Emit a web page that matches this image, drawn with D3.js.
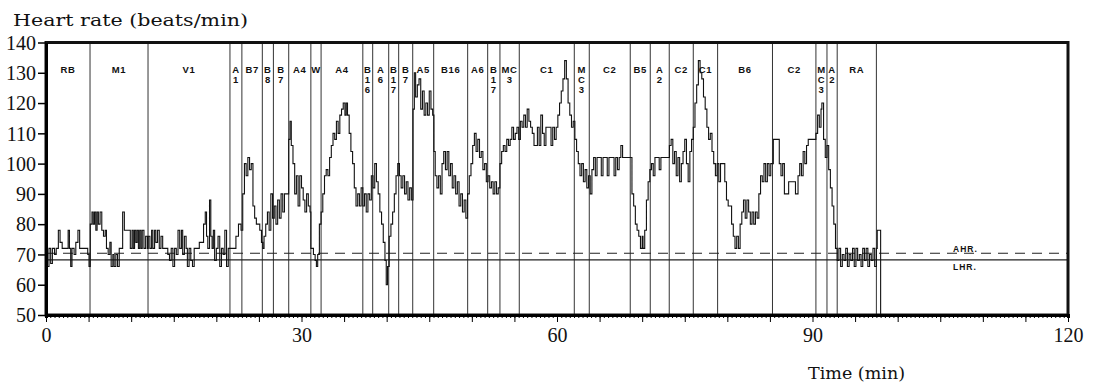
<!DOCTYPE html>
<html>
<head>
<meta charset="utf-8">
<script src="https://cdn.jsdelivr.net/npm/d3@7"></script>
<style>
  body { margin: 0; background: #fff; }
  svg { display: block; }
  .tick text { font-family: 'Liberation Serif', serif !important; }
</style>
</head>
<body>
<svg id="chart" width="1093" height="384"></svg>
<script>
// activity segments (min) and their labels
const segEdges = [0, 5.17, 11.98, 21.6, 23.0, 25.4, 26.7, 28.5, 31.1, 32.3, 37.2, 38.36, 40.24, 41.41, 43.06,
  45.52, 49.51, 51.86, 53.3, 55.57, 62.03, 63.79, 68.6, 70.95, 73.18, 76.0, 78.86, 85.3, 90.4, 91.7, 92.9, 97.5];
const segLabels = ['RB', 'M1', 'V1', 'A\n1', 'B7', 'B\n8', 'B\n7', 'A4', 'W', 'A4', 'B\n1\n6', 'A\n6', 'B\n1\n7', 'B\n7',
  'A5', 'B16', 'A6', 'B\n1\n7', 'MC\n3', 'C1', 'M\nC\n3', 'C2', 'B5', 'A\n2', 'C2', 'C1', 'B6', 'C2', 'M\nC\n3', 'A\n2', 'RA'];

// reference levels (beats/min)
const refNames = ['AHR.', 'LHR.'];
const refValues = [70.4, 68.2];

const yTicks = [50, 60, 70, 80, 90, 100, 110, 120, 130, 140];
const xTicks = [0, 30, 60, 90, 120];

// heart rate trace: [time (min), beats/min]
const hrTrace = [
  [0,70],[0.15,66],[0.35,72],[0.55,67],[0.75,72],[1.0,70],[1.2,72],[1.45,78],[1.65,74],[1.9,72],[2.6,78],[2.75,72],
  [2.9,66],[3.05,72],[3.3,70],[3.5,74],[3.75,78],[3.95,72],[4.6,72],[4.9,70],[5.05,66],
  [5.2,80],[5.4,84],[5.55,80],[5.7,84],[5.85,78],[6.0,84],[6.15,80],[6.35,84],[6.55,78],[6.75,76],[6.95,78],[7.1,72],
  [7.3,70],[7.5,74],[7.65,66],[7.85,70],[8.0,66],[8.2,70],[8.4,66],[8.6,72],[9.0,84],[9.2,78],[9.9,72],[10.1,78],
  [10.25,72],[10.4,78],[10.55,74],[10.7,78],[10.85,72],[11.0,78],[11.15,72],[11.3,78],[11.5,72],[11.7,76],[11.9,72],
  [12.0,76],[12.2,72],[12.4,78],[12.55,72],[12.75,78],[12.9,74],[13.1,78],[13.3,72],[13.5,76],[13.7,72],[14.3,70],
  [14.5,68],[14.7,72],[14.9,66],[15.1,72],[15.3,70],[15.5,78],[15.7,72],[15.9,78],[16.05,70],[16.25,76],[16.45,72],
  [16.6,66],[16.8,72],[17.0,68],[17.2,66],[17.4,72],[18.0,74],[18.5,80],[18.7,84],[18.85,76],[19.0,72],[19.2,88],
  [19.35,76],[19.5,72],[19.65,78],[19.8,68],[20.0,72],[20.2,76],[20.4,66],[20.6,72],[20.8,70],[21.0,78],[21.2,66],
  [21.4,72],
  [22.3,76],[22.6,80],[22.9,78],[23.1,90],[23.3,100],[23.5,96],[23.7,102],[23.9,98],[24.1,100],[24.3,86],[24.5,82],
  [24.7,80],[25.1,78],[25.3,74],[25.45,72],[25.6,76],[25.8,80],[26.0,84],[26.2,78],[26.4,90],[26.6,82],[26.8,86],
  [27.0,80],[27.2,88],[27.4,82],[27.6,90],[27.8,84],[28.0,90],[28.5,108],[28.65,114],[28.8,106],[29.0,100],[29.2,90],
  [29.4,96],[29.6,86],[29.8,96],[30.0,92],[30.2,88],[30.4,84],[30.6,90],[30.8,86],[31.0,84],[31.1,72],[31.4,70],
  [31.6,68],[31.75,66],[31.9,70],[32.1,80],[32.3,84],[32.5,90],[32.7,96],[32.9,98],[33.1,96],[33.3,102],[33.5,106],
  [33.7,110],[33.9,108],[34.1,114],[34.3,110],[34.5,116],[34.7,118],[34.9,120],[35.1,116],[35.25,120],[35.4,116],
  [35.6,110],[35.8,104],[36.0,100],[36.2,92],[36.4,86],[36.6,90],[36.8,86],[37.0,92],[37.2,86],[37.4,90],[37.6,84],
  [37.8,90],[38.0,88],[38.2,96],[38.4,92],[38.6,100],[38.8,94],[39.0,90],[39.2,84],[39.4,80],[39.6,74],[39.8,68],
  [39.95,60],[40.1,66],[40.3,76],[40.5,80],[40.7,84],[40.9,90],[41.1,96],[41.3,100],[41.5,96],[41.7,92],[41.9,96],
  [42.1,90],[42.3,94],[42.5,88],[42.7,92],[42.9,88],
  [43.1,118],[43.25,130],[43.4,122],[43.6,126],[43.8,128],[44.0,118],[44.2,124],[44.4,116],[44.6,120],[44.8,116],
  [45.0,124],[45.2,118],[45.4,116],[45.55,104],[45.7,96],[45.9,92],[46.1,96],[46.3,90],[46.5,100],[46.7,104],
  [46.9,98],[47.1,104],[47.3,96],[47.5,100],[47.7,92],[47.9,96],[48.1,90],[48.3,94],[48.5,86],[48.7,90],[48.9,84],
  [49.1,88],[49.3,82],[49.5,90],[49.7,96],[49.9,100],[50.1,106],[50.3,110],[50.5,104],[50.7,108],[50.9,102],
  [51.1,104],[51.3,98],[51.5,100],[51.7,94],[51.9,96],[52.1,92],[52.3,94],[52.5,90],[52.7,94],[52.9,90],[53.1,92],
  [53.3,100],[53.5,104],[53.7,106],[53.9,104],[54.1,108],[54.3,106],[54.5,108],[54.7,112],[54.9,108],[55.1,110],
  [55.3,112],[55.5,108],[55.7,114],[55.9,112],[56.1,116],[56.3,112],[56.5,118],[56.7,114],[56.9,112],[57.1,110],
  [57.3,106],[57.7,112],[57.9,106],[58.1,116],[58.3,110],[58.5,106],[58.7,112],[59.3,106],[59.5,112],[59.7,108],
  [59.9,112],[60.1,116],[60.3,120],[60.5,124],[60.7,128],[60.9,134],[61.1,128],[61.3,120],[61.5,116],[61.7,112],
  [61.9,114],[62.1,108],[62.3,104],[62.5,100],[62.7,96],[62.9,100],[63.1,94],[63.3,98],[63.5,92],[63.7,96],[63.9,90],
  [64.1,98],[64.3,102],[64.5,96],[64.7,102],[65.2,96],[65.4,102],[65.9,96],[66.1,102],[66.7,96],[66.9,102],[67.1,98],
  [67.3,102],[67.5,106],[67.7,102],[68.6,102],[68.8,90],[69.0,86],[69.2,80],[69.4,78],[69.6,76],[69.8,72],[70.0,76],
  [70.1,72],[70.3,78],[70.5,88],[70.7,94],[70.9,98],[71.1,100],[71.3,96],[71.5,102],[72.0,98],[72.2,102],[73.2,106],
  [73.4,108],[73.6,100],[73.8,104],[74.0,96],[74.2,102],[74.4,94],[74.6,100],[74.8,104],[75.0,108],[75.2,100],
  [75.4,94],[75.6,104],[75.8,108],[76.0,112],[76.2,120],[76.4,126],[76.6,134],[76.8,130],[77.0,128],[77.2,122],
  [77.4,118],[77.6,112],[77.8,108],[78.0,110],[78.2,104],[78.4,100],[78.6,96],[78.8,100],[79.0,94],[79.2,100],
  [79.7,94],[79.9,88],[80.1,86],[80.5,80],[80.7,76],[80.9,72],[81.1,76],[81.3,72],[81.5,80],[81.7,84],[81.9,88],
  [82.1,82],[82.3,88],[82.5,84],[82.7,80],[82.9,84],[83.1,80],[83.3,84],[83.5,82],[83.7,90],[83.9,96],[84.1,94],
  [84.3,100],[84.5,94],[84.7,100],[84.9,96],[85.1,100],[85.4,108],[86.1,100],[86.3,96],[86.5,100],[86.7,90],
  [87.2,94],[87.8,94],[88.0,90],[88.3,96],[88.5,100],[88.7,96],[88.9,104],[89.1,100],[89.3,106],[89.5,108],
  [90.4,110],[90.6,116],[90.8,112],[91.0,118],[91.1,120],[91.3,108],[91.5,102],[91.7,106],[91.9,98],[92.1,92],
  [92.3,86],[92.5,80],[92.7,72],[92.9,68],[93.1,72],[93.3,66],[93.5,70],[93.7,68],[93.9,72],[94.1,66],[94.3,70],
  [94.5,68],[94.7,72],[94.9,66],[95.1,72],[95.3,68],[95.5,70],[95.7,66],[95.9,72],[96.1,68],[96.3,72],[96.5,66],
  [96.7,70],[96.9,68],[97.1,72],[97.3,66],[97.5,72],[97.6,78],[97.9,78],[98.0,50]
];

const svg = d3.select('#chart');
const x = d3.scaleLinear().domain([0, 120]).range([46, 1068]);
const y = d3.scaleLinear().domain([50, 140]).range([315, 42.5]);
const bold = 'Liberation Sans, Arial, sans-serif';

// titles
svg.append('text').text('Heart rate (beats/min)')
  .attr('x', 13).attr('y', 26)
  .attr('textLength', 235).attr('lengthAdjust', 'spacingAndGlyphs')
  .style('font-family', 'DejaVu Serif, serif').style('font-size', '16px').style('fill', '#111');
svg.append('text').text('Time (min)')
  .attr('x', 808).attr('y', 379)
  .attr('textLength', 97).attr('lengthAdjust', 'spacingAndGlyphs')
  .style('font-family', 'DejaVu Serif, serif').style('font-size', '16px').style('fill', '#111');

// activity boundaries
svg.append('g').selectAll('line').data(segEdges.slice(1)).join('line')
  .attr('x1', d => x(d)).attr('x2', d => x(d))
  .attr('y1', y(140)).attr('y2', y(50))
  .style('stroke', '#333').style('stroke-width', 1);

// activity labels
const lab = svg.append('g').selectAll('text').data(segLabels).join('text')
  .attr('text-anchor', 'middle')
  .style('font-family', bold).style('font-weight', 'bold').style('font-size', '9.5px')
  .style('letter-spacing', '0.6px').style('fill', '#111');
lab.each(function(d, i) {
  const cx = (x(segEdges[i]) + x(segEdges[i + 1])) / 2;
  d.split('\n').forEach((s, k) => {
    d3.select(this).append('tspan').text(s).attr('x', cx).attr('y', 72.5 + k * 10);
  });
});

// AHR / LHR
svg.append('g').selectAll('line').data(refValues).join('line')
  .attr('x1', x(0)).attr('x2', x(120))
  .attr('y1', d => y(d)).attr('y2', d => y(d))
  .style('stroke', '#222').style('stroke-width', 1.1)
  .style('stroke-dasharray', (d, i) => i === 0 ? '10,7' : null);
svg.append('g').selectAll('text').data(refNames).join('text')
  .text(d => d)
  .attr('x', 953).attr('y', (d, i) => i === 0 ? y(refValues[i]) - 1.5 : y(refValues[i]) + 10)
  .style('font-family', bold).style('font-weight', 'bold').style('font-size', '8.5px')
  .style('letter-spacing', '1px').style('fill', '#111');

// trace
const line = d3.line().x(d => x(d[0])).y(d => y(d[1])).curve(d3.curveStepAfter);
svg.append('path').datum(hrTrace).attr('d', line)
  .style('fill', 'none').style('stroke', '#111').style('stroke-width', 1.1);

// frame
svg.append('rect')
  .attr('x', x(0)).attr('y', y(140)).attr('width', x(120) - x(0)).attr('height', y(50) - y(140))
  .style('fill', 'none').style('stroke', '#111').style('stroke-width', 3);

// y axis
const yAxis = svg.append('g').attr('transform', `translate(${x(0)},0)`)
  .attr('font-family', 'Liberation Serif')
  .call(d3.axisLeft(y).tickValues(yTicks).tickSize(8).tickSizeOuter(0).tickPadding(2));
yAxis.attr('font-family', 'Liberation Serif').attr('font-size', 20);
yAxis.select('.domain').style('stroke-width', 3);
yAxis.selectAll('line').style('stroke-width', 1.5);
yAxis.selectAll('text').style('fill', '#111').attr('dy', '0.34em');

// x axis: fine ticks, 5-min ticks, labelled ticks
const xMinor = svg.append('g').attr('transform', `translate(0,${y(50)})`)
  .call(d3.axisBottom(x).tickValues(d3.range(0, 120.01, 0.5)).tickSize(3).tickFormat(''));
xMinor.select('.domain').style('stroke-width', 3);
svg.append('g').attr('transform', `translate(0,${y(50)})`)
  .call(d3.axisBottom(x).tickValues(d3.range(0, 120.01, 5)).tickSize(7).tickFormat(''))
  .select('.domain').remove();
const xAxis = svg.append('g').attr('transform', `translate(0,${y(50)})`)
  .call(d3.axisBottom(x).tickValues(xTicks).tickSize(0).tickPadding(13));
xAxis.attr('font-family', 'Liberation Serif').attr('font-size', 20);
xAxis.select('.domain').remove();
xAxis.selectAll('text').style('fill', '#111');
</script>
</body>
</html>
